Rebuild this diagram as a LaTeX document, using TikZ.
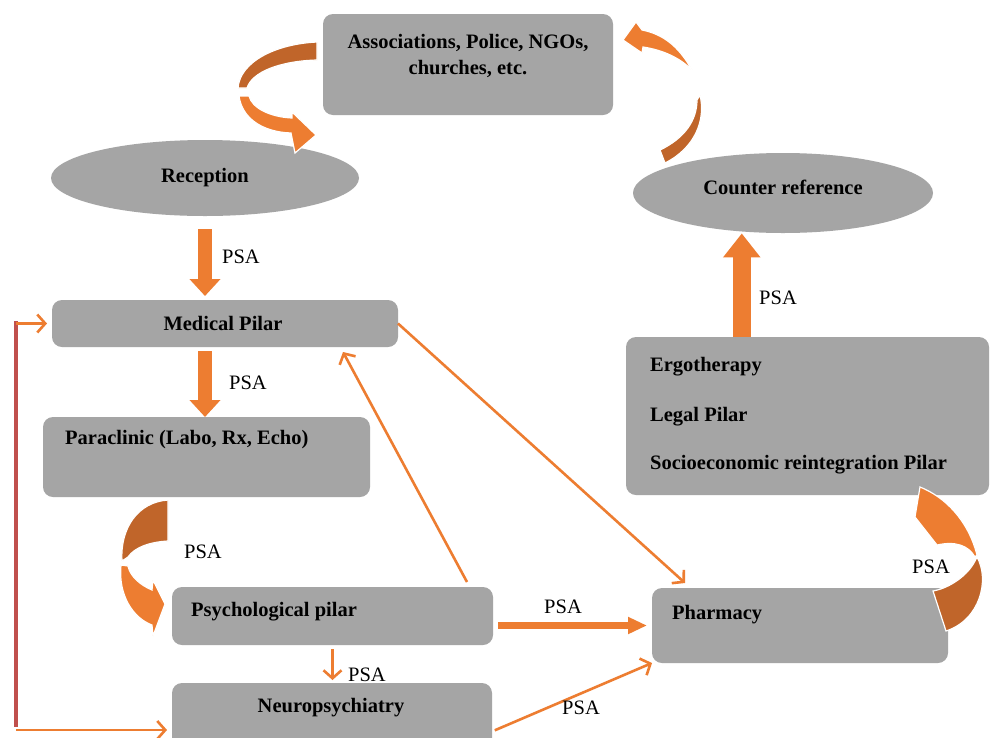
\documentclass[tikz,border=0pt]{standalone}
\usepackage{fontspec}
\setmainfont{Liberation Serif}
\usetikzlibrary{arrows.meta,shapes.geometric}
\definecolor{boxgray}{HTML}{A5A5A5}
\definecolor{orng}{HTML}{ED7D31}
\definecolor{dorng}{HTML}{C0652A}
\definecolor{redl}{HTML}{C0504D}
\tikzset{
  box/.style={fill=boxgray, draw=none, rounded corners=10pt, inner sep=0pt, outer sep=0pt},
  oval/.style={ellipse, fill=boxgray, draw=none, inner sep=0pt, outer sep=0pt},
  lbl/.style={font=\fontsize{20.5}{26}\selectfont\bfseries, inner sep=0pt},
  psa/.style={font=\fontsize{20.5}{25}\selectfont, inner sep=0pt},
  conn/.style={draw=orng, line width=2.6pt, -{Straight Barb[length=8pt,width=18pt]}},
  fat/.style={draw=orng, line width=14pt, -{Triangle[length=17pt,width=30pt]}},
  fatter/.style={draw=orng, line width=18pt, -{Triangle[length=24pt,width=36pt]}},
  slim/.style={draw=orng, line width=7pt, -{Triangle[length=19pt,width=16pt]}},
  lightc/.style={fill=orng, draw=white, line width=1.2pt},
  darkc/.style={fill=dorng, draw=white, line width=1.2pt},
}
\begin{document}
\begin{tikzpicture}[x=1pt,y=-1pt]
\clip (0,0) rectangle (990,737);
\fill[white] (0,0) rectangle (990,737);

% boxes
\node[box, minimum width=290pt, minimum height=101pt] (assoc) at (468,64.5) {};
\node[oval, minimum width=308pt, minimum height=76pt] (rec) at (205,178) {};
\node[oval, minimum width=300pt, minimum height=80pt] (counter) at (783,193) {};
\node[box, minimum width=346pt, minimum height=47pt] (med) at (225,323.5) {};
\node[box, minimum width=327pt, minimum height=80pt] (para) at (206.5,457) {};
\node[box, minimum width=321pt, minimum height=58pt] (psy) at (332.5,616) {};
\node[box, minimum width=320pt, minimum height=97pt] (neuro) at (332,731.5) {};
\node[box, minimum width=296pt, minimum height=75pt] (pharm) at (800,625.5) {};
\node[box, minimum width=363pt, minimum height=158pt] (ergo) at (807.5,416) {};

% curved arrows
\path[darkc] (317,42) .. controls (275,44) and (240,62) .. (238,88) -- (247,88)
  .. controls (252,72) and (280,61) .. (317,60) -- cycle;
\path[lightc] (239,96) .. controls (242,118) and (262,132) .. (291,133) -- (295,153)
  -- (316,135) -- (292,112) -- (292,118) .. controls (270,117) and (252,108) .. (249,96) -- cycle;

\path[lightc] (692,70) .. controls (678,45) and (662,34) .. (642,30) -- (636,22)
  -- (623,40) -- (642,53) -- (643,47) .. controls (663,50) and (680,58) .. (692,70) -- cycle;
\path[darkc] (700,95) .. controls (706,120) and (695,148) .. (665,163) -- (660,150)
  .. controls (685,138) and (697,120) .. (697,100) -- cycle;

\path[darkc] (168,500) .. controls (138,502) and (120,528) .. (122,561) -- (128,557)
  .. controls (135,547) and (150,542) .. (168,541) -- cycle;
\path[lightc] (121,565) .. controls (118,595) and (133,618) .. (152,625) -- (153,636)
  -- (165,604) -- (153,580) -- (152,590) .. controls (140,585) and (130,576) .. (128,566) -- cycle;

\path[lightc] (920,487) .. controls (945,497) and (968,520) .. (977,555) -- (975,557)
  .. controls (968,545) and (955,541) .. (937,545) -- (915,517) -- cycle;
\path[darkc] (977,557) .. controls (990,580) and (980,620) .. (946,631) -- (933,591)
  .. controls (950,588) and (968,575) .. (975,561) -- cycle;

% thick arrows
\draw[fat, shorten <=13pt, shorten >=4pt] (rec.south) -- (rec.south |- med.north);
\draw[fat, shorten <=4pt] (rec.south |- med.south) -- (rec.south |- para.north);
\draw[fatter, shorten >=2pt] (ergo.north -| counter.-137) -- (counter.-137);
\draw[slim, shorten <=5pt, shorten >=5pt] (pharm.west -| psy.east) -- (pharm.west);

% thin connectors
\draw[conn] (med.east) -- ([xshift=33pt,yshift=5pt]pharm.north west);
\draw[conn] ([xshift=-26pt,yshift=5pt]psy.north east) -- ([xshift=-55pt,yshift=-5pt]med.south east);
\draw[conn, shorten <=4pt, shorten >=3pt] (psy.south) -- (psy.south |- neuro.north);
\draw[conn, shorten <=3pt] (neuro.east) -- (pharm.south west);

% red feedback line
\coordinate (redtop) at (16,323.5);
\coordinate (redbot) at (16,730);
\draw[redl, line width=4pt] (16,321) -- (16,727);
\draw[conn, shorten >=5pt] (redtop) -- (med.west);
\draw[conn, shorten >=5pt] (redbot) -- (neuro.west |- redbot);

% texts
\node[lbl, align=center] (tassoc) at (468,56) {Associations, Police, NGOs,\\churches, etc.};
\node[lbl] (trec) at (rec.center) {Reception};
\node[lbl] (tcounter) at (783,187) {Counter reference};
\node[lbl] (tmed) at (223,323) {Medical Pilar};
\node[lbl, anchor=west] (tpara) at (65,440) {Paraclinic (Labo, Rx, Echo)};
\node[lbl, anchor=west] (tpsy) at (191,612) {Psychological pilar};
\node[lbl] (tneuro) at (331,708) {Neuropsychiatry};
\node[lbl, anchor=west] (tpharm) at (672,615) {Pharmacy};
\node[lbl, anchor=west] (tergo) at (650,367) {Ergotherapy};
\node[lbl, anchor=west] (tlegal) at (650,417) {Legal Pilar};
\node[lbl, anchor=west] (tsocio) at (650,465) {Socioeconomic reintegration Pilar};

\node[psa] (p1) at (241,257) {PSA};
\node[psa] (p2) at (248,383) {PSA};
\node[psa] (p3) at (778,298) {PSA};
\node[psa] (p4) at (563,607) {PSA};
\node[psa] (p5) at (367,675) {PSA};
\node[psa] (p6) at (581,708) {PSA};
\node[psa] (p7) at (931,567) {PSA};
\node[psa] (p8) at (203,552) {PSA};
\end{tikzpicture}
\end{document}
